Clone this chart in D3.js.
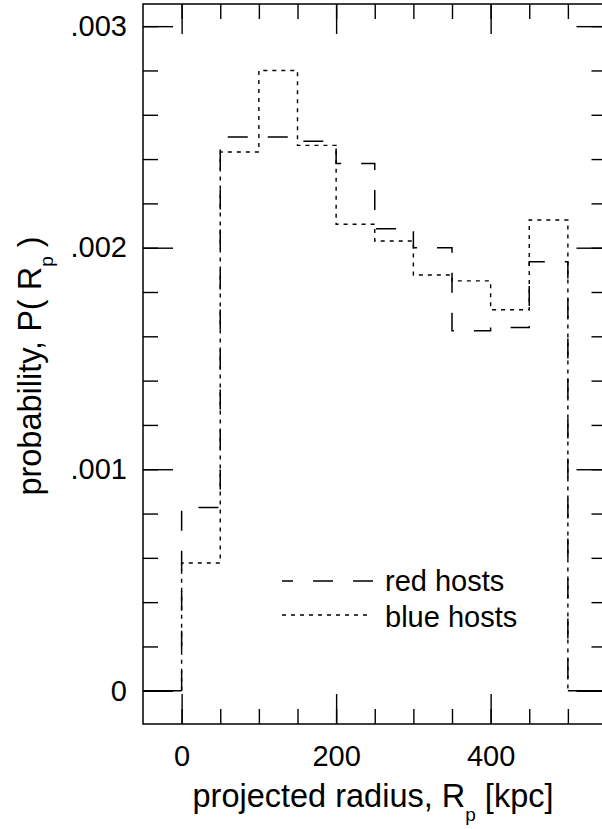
<!DOCTYPE html>
<html>
<head>
<meta charset="utf-8">
<script src="https://cdn.jsdelivr.net/npm/d3@7"></script>
<style>
  html, body { margin: 0; padding: 0; background: #fff; }
  svg { display: block; }
  text { font-family: "Liberation Sans", Arial, sans-serif; fill: #000; }
</style>
</head>
<body>
<svg id="chart" width="602" height="829"></svg>
<script>
// ---- data ----
const binStarts = [0, 50, 100, 150, 200, 250, 300, 350, 400, 450];
const binWidth = 50;
const redHosts  = [0.000827, 0.00250, 0.00250, 0.00248, 0.00238, 0.002086, 0.00200, 0.001625, 0.00164, 0.001937];
const blueHosts = [0.000577, 0.002432, 0.00280, 0.002462, 0.002106, 0.00203, 0.001877, 0.00185, 0.00172, 0.002125];
const xMajorTicks = [0, 200, 400];
const xMinorTicks = [0, 50, 100, 150, 200, 250, 300, 350, 400, 450, 500];
const yMajorTicks = [0, 0.001, 0.002, 0.003];
const yTickLabels = ["0", ".001", ".002", ".003"];
const yMinorTicks = [0, 0.0002, 0.0004, 0.0006, 0.0008, 0.001, 0.0012, 0.0014, 0.0016, 0.0018,
                     0.002, 0.0022, 0.0024, 0.0026, 0.0028, 0.003];
const legendLabels = ["red hosts", "blue hosts"];

// ---- layout ----
const L = 143, R = 606.5, T = 4, B = 724;
const x = d3.scaleLinear().domain([-50, 550]).range([L, R]);
const y = d3.scaleLinear().domain([-0.00015, 0.0031]).range([B, T]);
const FS = 29, TFS = 32.5, SFS = 19;

const svg = d3.select("#chart");

// frame
svg.append("rect").attr("x", L).attr("y", T).attr("width", R - L).attr("height", B - T)
  .attr("fill", "none").attr("stroke", "#000").attr("stroke-width", 1.5);

function styleAxis(g) {
  g.select(".domain").remove();
  g.selectAll(".tick line").attr("stroke", "#000").attr("stroke-width", 1.4);
}

// y ticks left
svg.append("g").attr("transform", `translate(${L},0)`)
  .call(d3.axisLeft(y).tickValues(yMinorTicks).tickSize(-15).tickFormat(""))
  .call(styleAxis);
svg.append("g").attr("transform", `translate(${L},0)`)
  .call(d3.axisLeft(y).tickValues(yMajorTicks).tickSize(-30).tickPadding(16)
        .tickFormat((d, i) => yTickLabels[i]))
  .call(styleAxis)
  .call(g => g.selectAll("text").attr("font-size", FS).attr("font-family", "Liberation Sans, Arial, sans-serif").attr("fill", "#000"));
// y ticks right
svg.append("g").attr("transform", `translate(${R},0)`)
  .call(d3.axisRight(y).tickValues(yMinorTicks).tickSize(-15).tickFormat(""))
  .call(styleAxis);
svg.append("g").attr("transform", `translate(${R},0)`)
  .call(d3.axisRight(y).tickValues(yMajorTicks).tickSize(-30).tickFormat(""))
  .call(styleAxis);
// x ticks bottom
svg.append("g").attr("transform", `translate(0,${B})`)
  .call(d3.axisBottom(x).tickValues(xMinorTicks).tickSize(-15).tickFormat(""))
  .call(styleAxis);
svg.append("g").attr("transform", `translate(0,${B})`)
  .call(d3.axisBottom(x).tickValues(xMajorTicks).tickSize(-30).tickPadding(21)
        .tickFormat(d3.format("d")))
  .call(styleAxis)
  .call(g => g.selectAll("text").attr("font-size", FS).attr("font-family", "Liberation Sans, Arial, sans-serif").attr("fill", "#000"));
// x ticks top
svg.append("g").attr("transform", `translate(0,${T})`)
  .call(d3.axisTop(x).tickValues(xMinorTicks).tickSize(-15).tickFormat(""))
  .call(styleAxis);
svg.append("g").attr("transform", `translate(0,${T})`)
  .call(d3.axisTop(x).tickValues(xMajorTicks).tickSize(-30).tickFormat(""))
  .call(styleAxis);

// histograms
function stepPoints(vals) {
  const pts = binStarts.map((b, i) => [b, vals[i]]);
  pts.push([binStarts[binStarts.length - 1] + binWidth, 0]);
  return pts;
}
const line = d3.line().x(d => x(d[0])).y(d => y(d[1])).curve(d3.curveStepAfter);

const pRed = [[0, 0]].concat(stepPoints(redHosts));
const pBlue = [[0, 0]].concat(stepPoints(blueHosts));

svg.append("path").attr("d", line(pBlue)).attr("fill", "none").attr("stroke", "#000")
  .attr("stroke-width", 1.4).attr("stroke-dasharray", "4,5");
svg.append("path").attr("d", line(pRed)).attr("fill", "none").attr("stroke", "#000")
  .attr("stroke-width", 1.5).attr("stroke-dasharray", "20,20");

// zero segments outside the binned range
const xMin = x.domain()[0], xMax = x.domain()[1];
svg.append("line").attr("x1", x(xMin)).attr("x2", x(binStarts[0])).attr("y1", y(0)).attr("y2", y(0))
  .attr("stroke", "#000").attr("stroke-width", 1.4);
svg.append("line").attr("x1", x(binStarts[binStarts.length - 1] + binWidth)).attr("x2", x(xMax))
  .attr("y1", y(0)).attr("y2", y(0)).attr("stroke", "#000").attr("stroke-width", 1.4);

// legend
const lg = svg.append("g");
lg.append("line").attr("x1", 373).attr("x2", 282).attr("y1", 581).attr("y2", 581)
  .attr("stroke", "#000").attr("stroke-width", 1.4).attr("stroke-dasharray", "20,20");
lg.append("text").attr("x", 385).attr("y", 591).attr("font-size", FS).text(legendLabels[0]);
lg.append("line").attr("x1", 282).attr("x2", 371).attr("y1", 615).attr("y2", 615)
  .attr("stroke", "#000").attr("stroke-width", 1.4).attr("stroke-dasharray", "4,5");
lg.append("text").attr("x", 385).attr("y", 627).attr("font-size", FS).text(legendLabels[1]);

// x title
const xt = svg.append("text").attr("x", 373).attr("y", 807).attr("text-anchor", "middle").attr("font-size", TFS);
xt.append("tspan").text("projected radius, R");
xt.append("tspan").attr("font-size", SFS).attr("dy", 14).text("p");
xt.append("tspan").attr("dy", -14).text(" [kpc]");

// y title
const yt = svg.append("text").attr("transform", "translate(41,366) rotate(-90)")
  .attr("text-anchor", "middle").attr("font-size", TFS);
yt.append("tspan").text("probability, P( R");
yt.append("tspan").attr("font-size", SFS).attr("dy", 12).text("p");
yt.append("tspan").attr("dy", -12).text(" )");
</script>
</body>
</html>
